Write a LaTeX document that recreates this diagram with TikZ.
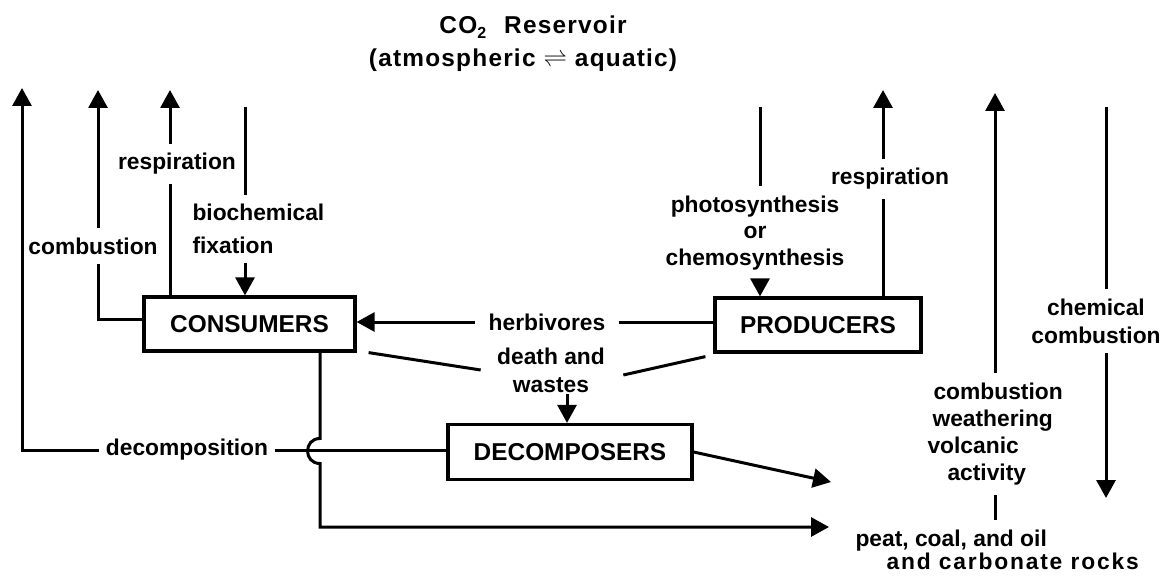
\documentclass[tikz,border=0pt]{standalone}
\usepackage{fontspec}
\setmainfont{Liberation Sans}
\usetikzlibrary{arrows.meta,calc}
\begin{document}
\begin{tikzpicture}[x=0.5bp,y=-0.5bp,
  line width=1.5bp,
  >={Triangle[width=9.5bp,length=9bp]},
  lbl/.style={font=\fontsize{11.4bp}{13.5bp}\selectfont\bfseries, inner xsep=2.5bp, inner ysep=4bp},
  boxnode/.style={draw, line width=1.6bp, inner sep=0pt, font=\fontsize{12.2bp}{14bp}\selectfont\bfseries},
]
\useasboundingbox (0,0) rectangle (1166,577);

% title
\node[align=center, inner sep=0pt, font=\fontsize{12.2bp}{16.5bp}\selectfont\bfseries\addfontfeature{LetterSpace=5}] (title) at (523,43.5)
  {\hspace*{10bp}CO\raisebox{-2.5bp}{\fontsize{8bp}{8bp}\selectfont 2}\hspace{9bp}Reservoir\\(atmospheric $\rightleftharpoons$ aquatic)};

% boxes
\node[boxnode, minimum width=105.5bp, minimum height=27bp] (cons) at (249.5,324) {CONSUMERS};
\node[boxnode, minimum width=103bp, minimum height=27bp] (prod) at (818,325) {PRODUCERS};
\node[boxnode, minimum width=122bp, minimum height=27.5bp] (dec) at (570,452) {DECOMPOSERS};

% labels
\node[lbl] (lcomb) at (93,246) {combustion};
\node[lbl] (lresp1) at (177,164) {respiration};
\node[lbl, align=left, anchor=west, font=\fontsize{11.4bp}{16.5bp}\selectfont\bfseries] (lfix) at (186,229) {biochemical\\fixation};
\node[lbl, inner xsep=6bp] (herb) at (547,322) {herbivores};
\node[lbl, align=center, inner sep=0pt, font=\fontsize{11.4bp}{14bp}\selectfont\bfseries] (death) at (551,370) {death and\\wastes};
\node[lbl] (dcomp) at (187,450) {decomposition};
\node[lbl, align=center, font=\fontsize{11.4bp}{13.25bp}\selectfont\bfseries] (photo) at (755,233) {photosynthesis\\or\\chemosynthesis};
\node[lbl] (lresp2) at (890,179) {respiration};
\node[lbl, align=left, anchor=west] (cwv) at (921,434)
  {\hspace*{3bp}combustion\\\hspace*{2.5bp}weathering\\volcanic\\\hspace*{10bp}activity};
\node[lbl, align=center, font=\fontsize{11.4bp}{14bp}\selectfont\bfseries] (chem) at (1096,321) {chemical\\combustion};
\node[lbl, align=left, anchor=west, font=\fontsize{11.4bp}{11.8bp}\selectfont\bfseries] (peat) at (849,550)
  {peat, coal, and oil\\\hspace*{15.5bp}{\addfontfeature{LetterSpace=8}and carbonate rocks}};

% free ends
\coordinate (a1) at (22,88);
\coordinate (a2) at (98,90);
\coordinate (a3) at (170,90);
\coordinate (fixtop) at (245,107);
\coordinate (phtop) at (760,107);
\coordinate (a4) at (883,90);
\coordinate (a5) at (995,93);
\coordinate (chtop) at (1106,107);
\coordinate (chtip) at (1106,498);
\coordinate (p1) at (831,482);
\coordinate (p2) at (829,527);
\coordinate (hop) at (320,451);

% consumers side
\draw ($(cons.west)+(0,-5)$) -| (lcomb.south -| a2);
\draw[->] (lcomb.north -| a2) -- (a2);
\draw (cons.north -| a3) -- (lresp1.south -| a3);
\draw[->] (lresp1.north -| a3) -- (a3);
\draw (fixtop) -- (lfix.north -| fixtop);
\draw[->] (lfix.south -| fixtop) -- (cons.north -| fixtop);

% herbivores
\draw (prod.west |- herb) -- (herb.east);
\draw[->] (herb.west) -- (cons.east |- herb);

% death and wastes
\draw ($(cons.south east)+(12,0)$) -- ($(death.west)+(-15,0)$);
\draw ($(prod.south west)+(-8,3)$) -- ($(death.east)+(17,5)$);
\draw[->] ($(death.south)+(16,0)$) -- ($(dec.north)+(-3,0)$);

% decomposition
\draw (dec.west |- dcomp) -- (dcomp.east);
\draw[->] (dcomp.west) -| (a1);

% consumers down with hop
\draw[->] (cons.south -| hop) -- ($(hop)+(0,-12.5)$)
  .. controls ($(hop)+(-16.6,-12.5)$) and ($(hop)+(-16.6,12.5)$) .. ($(hop)+(0,12.5)$)
  |- (p2);

% decomposers to fossil
\draw[->] (dec.east) -- (p1);

% producers side
\draw (prod.north -| a4) -- (lresp2.south -| a4);
\draw[->] (lresp2.north -| a4) -- (a4);
\draw (phtop) -- (photo.north -| phtop);
\draw[->] (photo.south -| phtop) -- (prod.north -| phtop);

% geological
\draw (peat.north -| a5) -- (cwv.south -| a5);
\draw[->] (cwv.north -| a5) -- (a5);
\draw (chtop) -- (chem.north -| chtop);
\draw[->] (chem.south -| chtop) -- (chtip);
\end{tikzpicture}
\end{document}
